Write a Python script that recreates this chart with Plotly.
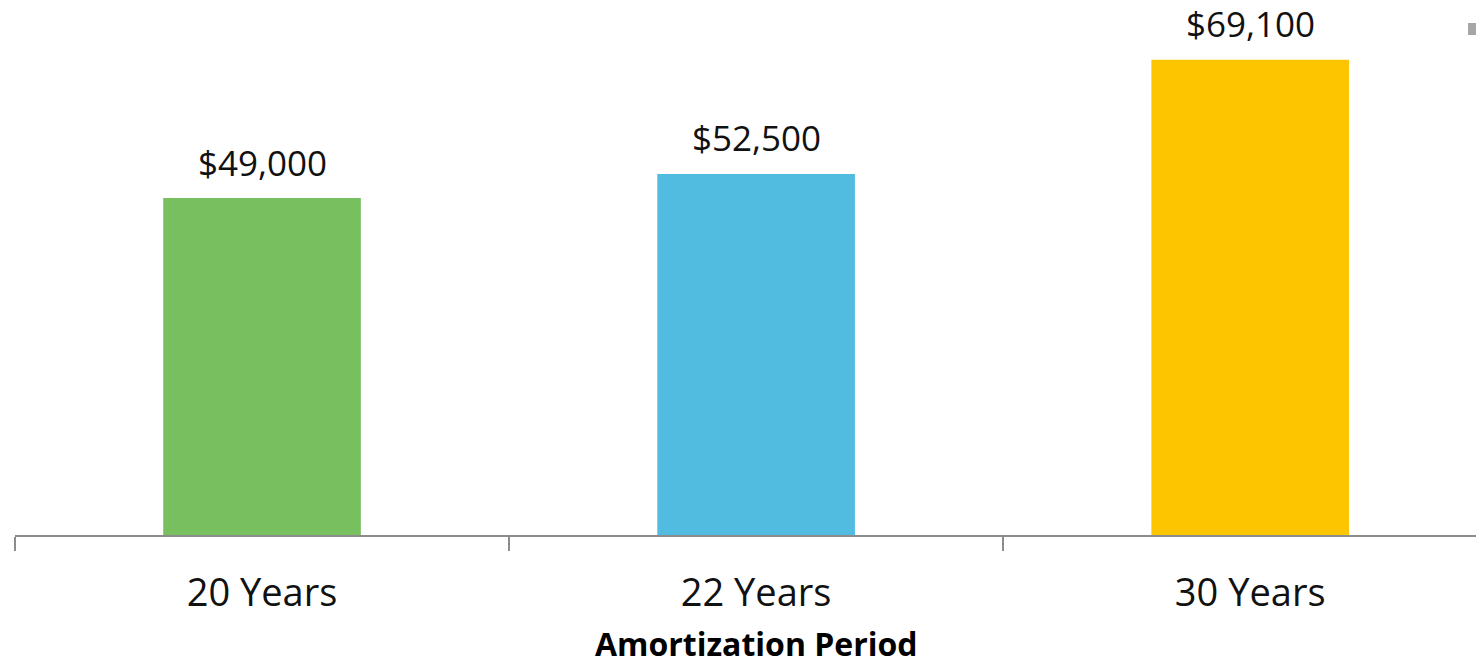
import plotly.graph_objects as go

categories = ["20 Years", "22 Years", "30 Years"]
values = [49000, 52500, 69100]
colors = ["#77BF5F", "#52BCE0", "#FCC500"]
labels = ["$49,000", "$52,500", "$69,100"]
x_title = "Amortization Period"

FONT = "Open Sans"

fig = go.Figure()
fig.add_trace(go.Bar(
    x=categories, y=values,
    marker=dict(color=colors, line=dict(width=0)),
    hoverinfo="skip",
))

annotations = [
    dict(x=c, y=v, xref="x", yref="y", text=t, showarrow=False,
         yanchor="middle", yshift=36,
         font=dict(family=FONT, size=35, color="#111111"))
    for c, v, t in zip(categories, values, labels)
]
# axis title placed below tick labels
annotations.append(dict(
    x=categories[1], xref="x", y=0, yref="paper", yshift=-108,
    yanchor="middle", showarrow=False,
    text="<b>" + x_title + "</b>",
    font=dict(family=FONT, size=32, color="#000000"),
))

fig.update_layout(
    width=1476, height=665,
    paper_bgcolor="white", plot_bgcolor="white",
    margin=dict(l=15, r=0, t=0, b=130),
    bargap=0.6,
    showlegend=False,
    font=dict(family=FONT, color="#111111"),
    annotations=annotations,
    shapes=[dict(type="rect", xref="paper", yref="paper",
                 x0=1.0 - 8/1461, x1=1.0, y0=1 - 23/535, y1=1 - 35/535,
                 fillcolor="#A6A6A6", line=dict(width=0))],
)
fig.update_xaxes(
    range=[-0.5, 2.457],
    automargin=False,
    showline=True, linecolor="#8C8C8C", linewidth=2,
    ticks="outside", tickson="boundaries", ticklen=14, tickwidth=2, tickcolor="#8C8C8C",
    tickfont=dict(family=FONT, size=38, color="#111111"),
    ticklabelstandoff=23,
    showgrid=False,
)
fig.update_yaxes(range=[0, 77800], visible=False, showgrid=False, zeroline=False, automargin=False)

fig.write_html("out.html", config=dict(displayModeBar=False),
               post_script="document.body.style.margin='0';document.body.style.padding='0';")
